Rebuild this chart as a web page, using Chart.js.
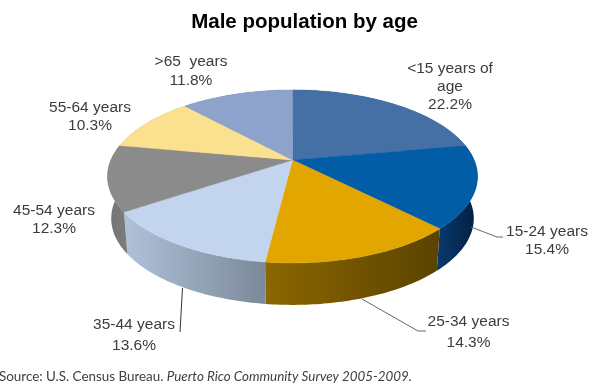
<!DOCTYPE html>
<html>
<head>
<meta charset="utf-8">
<title>Male population by age</title>
<script src="https://cdn.jsdelivr.net/npm/chart.js@4"></script>
<style>
  html,body{margin:0;padding:0;background:#fff;}
  canvas{display:block;}
</style>
</head>
<body>
<canvas id="pie" width="592" height="385"></canvas>
<script>
const categories = ["<15 years of age","15-24 years","25-34 years","35-44 years","45-54 years","55-64 years",">65  years"];
const values = [22.2,15.4,14.3,13.6,12.3,10.3,11.8];
const labelLines = [["<15 years of","age"],["15-24 years"],["25-34 years"],["35-44 years"],["45-54 years"],["55-64 years"],[">65  years"]];

const topColors = ["#4470a6","#005da6","#e2a600","#c3d5ee","#8b8b8b","#fbe08f","#8ea3cc"];
// wall gradient, left colour then right colour
const wallLeft = ["#2c4a70","#0b3a6e","#8c6700","#b0c2da","#737373","#a89660","#5f6e8a"];
const wallRight = ["#2c4a70","#001f3f","#5a4300","#7b8999","#7d7d7d","#a89660","#5f6e8a"];

// centre of each label (x) and middle of first line (y)
const labelX = [450,547,468.5,134,54,90,191];
const labelY = [69,232,322,325,211,108,62];
const lineH = [18,18,21,21,18,18,19];

// perspective of the tilted disc
const apexX = 292.5, apexY = 160, persp = -0.19, scaleX = 181.6, scaleY = 83.35;
const depth = 42, bottomShrink = 0.98;

function project(angle, bottom){
  const u = Math.cos(angle), v = Math.sin(angle);
  const w = 1 + persp*v;
  return {
    x: apexX + (bottom ? bottomShrink : 1)*scaleX*u/w,
    y: apexY + scaleY*v/w + (bottom ? depth : 0)
  };
}

function rimPoints(arc, bottom){
  const pts = [];
  const n = Math.max(8, Math.ceil((arc.endAngle-arc.startAngle)*60));
  for(let i=0;i<=n;i++){
    pts.push(project(arc.startAngle+(arc.endAngle-arc.startAngle)*i/n, bottom));
  }
  return pts;
}

const tiltedPie = {
  id:"tiltedPie",
  beforeDatasetDraw(chart){
    const ctx = chart.ctx;
    const arcs = chart.getDatasetMeta(0).data;

    // side walls first, faces cover whatever is behind
    arcs.forEach((arc,i)=>{
      const top = rimPoints(arc,false), bot = rimPoints(arc,true);
      const xs = bot.concat(top).map(p=>p.x);
      const g = ctx.createLinearGradient(Math.min(...xs),0,Math.max(...xs),0);
      g.addColorStop(0,wallLeft[i]);
      g.addColorStop(1,wallRight[i]);
      ctx.beginPath();
      top.forEach((p,k)=> k ? ctx.lineTo(p.x,p.y) : ctx.moveTo(p.x,p.y));
      bot.reverse().forEach(p=>ctx.lineTo(p.x,p.y));
      ctx.closePath();
      ctx.fillStyle = g;
      ctx.fill();
    });

    arcs.forEach((arc)=>{
      const top = rimPoints(arc,false);
      ctx.beginPath();
      ctx.moveTo(apexX,apexY);
      top.forEach(p=>ctx.lineTo(p.x,p.y));
      ctx.closePath();
      ctx.fillStyle = arc.options.backgroundColor;
      ctx.strokeStyle = arc.options.backgroundColor;
      ctx.lineWidth = 0.5;
      ctx.fill();
      ctx.stroke();
    });
    return false; // the flat arcs are replaced by the tilted ones
  },
  afterDraw(chart){
    const ctx = chart.ctx;
    ctx.save();

    // leader lines
    ctx.lineWidth = 1;
    ctx.strokeStyle = "#666";
    [[[471,227],[497,237],[503,237]],[[362,299],[418,331],[426,331]]].forEach(l=>{
      ctx.beginPath();
      l.forEach((p,k)=> k ? ctx.lineTo(p[0],p[1]) : ctx.moveTo(p[0],p[1]));
      ctx.stroke();
    });
    ctx.strokeStyle = "#333";
    ctx.beginPath();
    ctx.moveTo(182.5,288);
    ctx.lineTo(180,332);
    ctx.stroke();

    // slice labels
    ctx.font = "15.5px 'Liberation Sans'";
    ctx.fillStyle = "#3c3c3c";
    ctx.textAlign = "center";
    ctx.textBaseline = "middle";
    labelLines.forEach((lines,i)=>{
      const all = lines.concat(values[i].toFixed(1)+"%");
      all.forEach((t,k)=> ctx.fillText(t,labelX[i],labelY[i]+k*lineH[i]));
    });

    // source line
    ctx.textAlign = "left";
    ctx.fillStyle = "#404040";
    ctx.font = "13.4px Lato";
    const src = "Source: U.S. Census Bureau. ";
    ctx.fillText(src,-1,377);
    const w = ctx.measureText(src).width;
    ctx.font = "italic 13.4px Lato";
    ctx.fillText("Puerto Rico Community Survey 2005-2009.",-1+w,377);
    ctx.restore();
  }
};

new Chart(document.getElementById("pie"),{
  type:"pie",
  data:{
    labels:categories,
    datasets:[{data:values,backgroundColor:topColors,borderWidth:0}]
  },
  options:{
    responsive:false,
    animation:false,
    layout:{padding:{left:17,right:0,top:10,bottom:60}},
    plugins:{
      legend:{display:false},
      tooltip:{enabled:false},
      title:{
        display:true,
        text:"Male population by age",
        color:"#000",
        align:"center",
        font:{family:"'Liberation Sans'",size:20.5,weight:"bold"},
        padding:{top:0,bottom:0}
      }
    }
  },
  plugins:[tiltedPie]
});
</script>
</body>
</html>
